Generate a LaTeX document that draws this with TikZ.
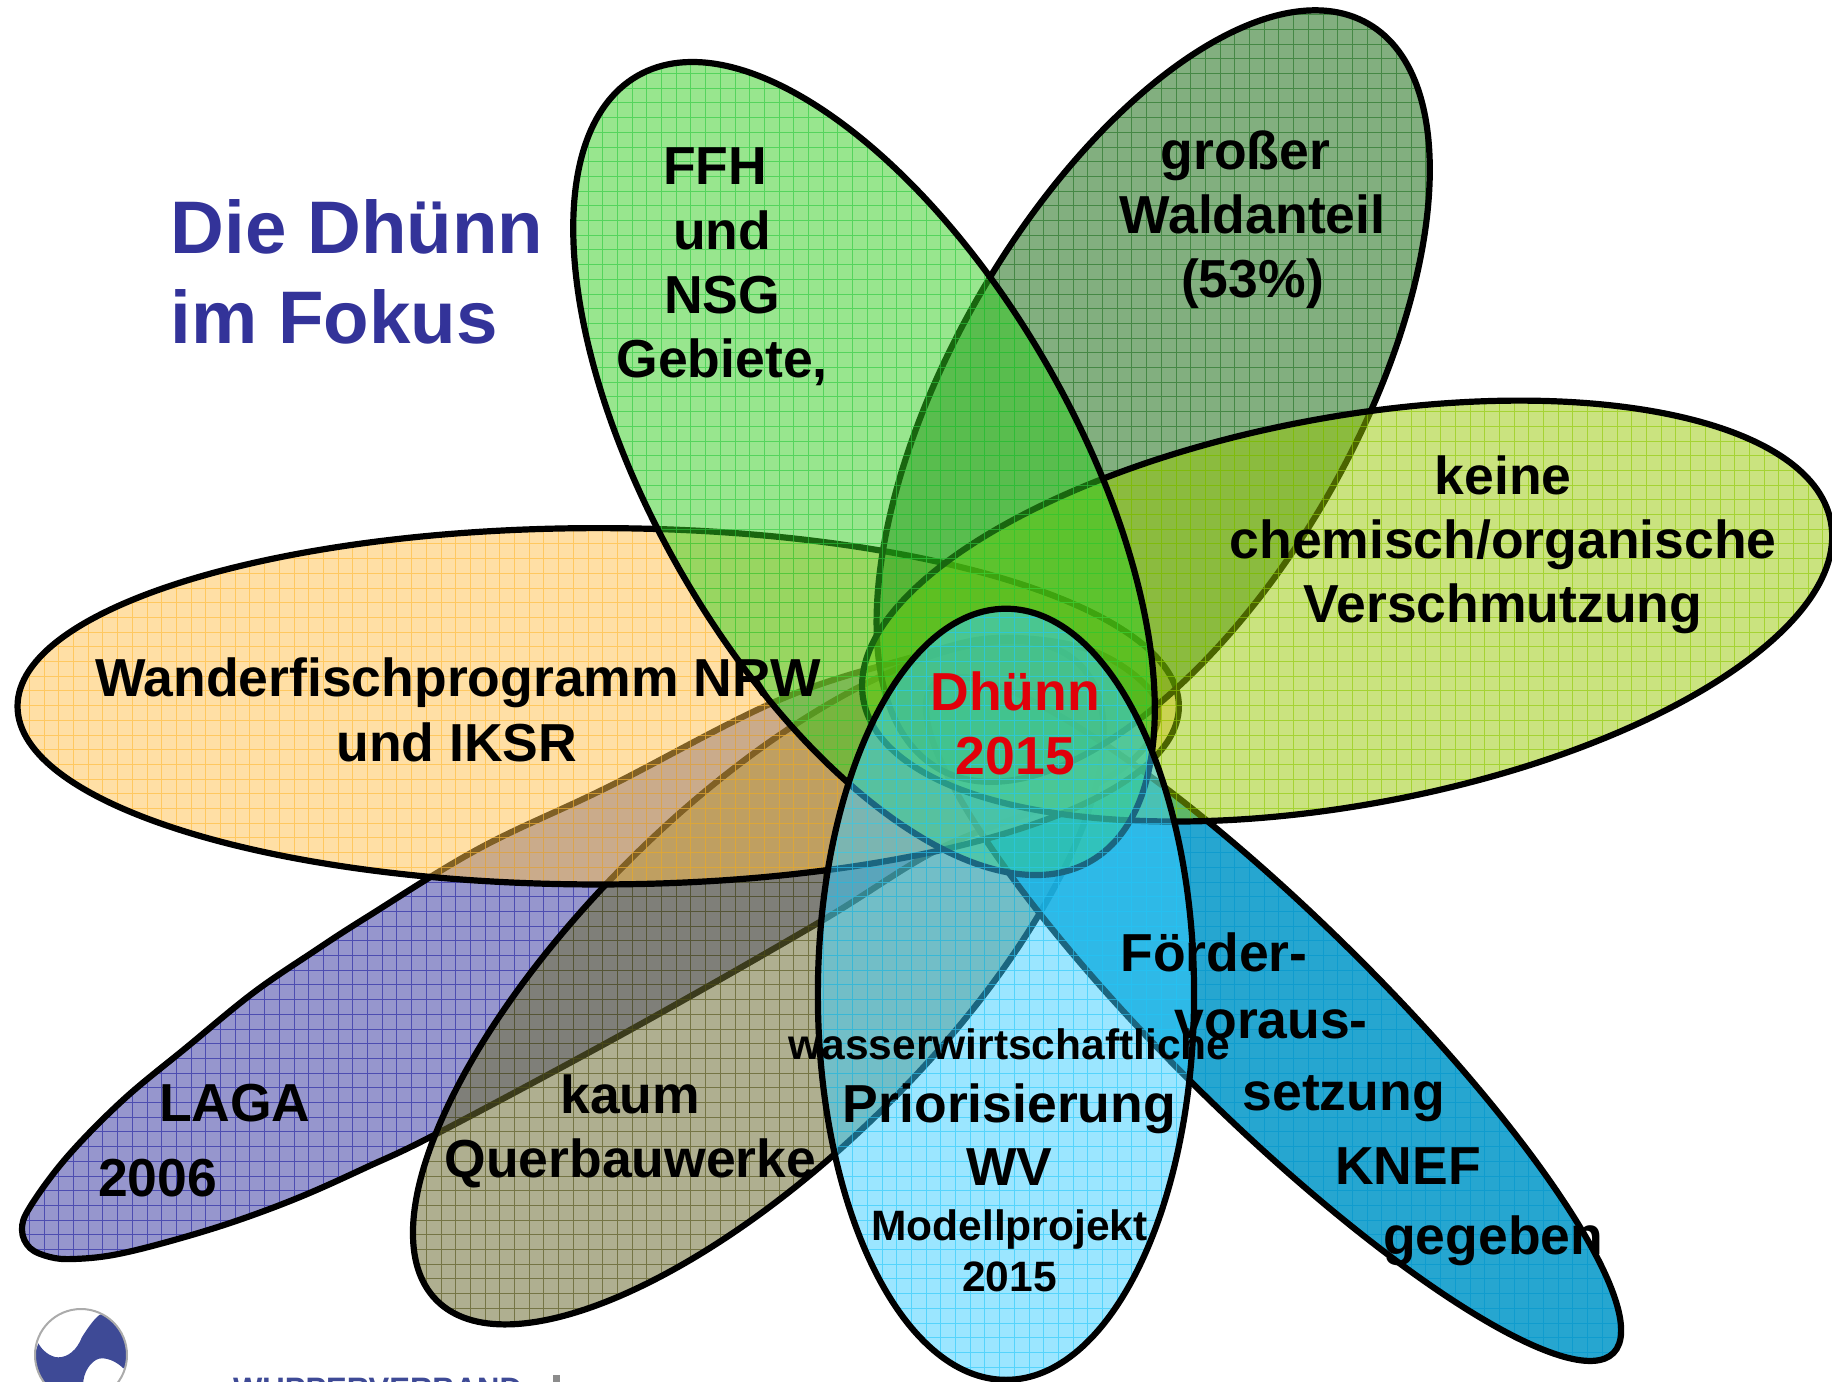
\documentclass[tikz,border=0pt]{standalone}
\usepackage{fontspec}
\setmainfont{Liberation Sans}
\usetikzlibrary{calc}
\definecolor{cOrange}{RGB}{255,192,75}
\definecolor{lOrange}{RGB}{255,185,50}
\definecolor{cLight}{RGB}{50,205,30}
\definecolor{lLight}{RGB}{40,200,60}
\definecolor{cDark}{RGB}{5,95,0}
\definecolor{lDark}{RGB}{30,110,30}
\definecolor{cYellow}{RGB}{150,200,0}
\definecolor{lYellow}{RGB}{140,200,0}
\definecolor{cBlue}{RGB}{0,150,200}
\definecolor{lBlue}{RGB}{0,150,205}
\definecolor{cCyan}{RGB}{55,205,255}
\definecolor{lCyan}{RGB}{40,200,250}
\definecolor{cOlive}{RGB}{109,109,52}
\definecolor{lOlive}{RGB}{80,80,20}
\definecolor{cPurple}{RGB}{45,45,155}
\definecolor{lPurple}{RGB}{30,30,160}
\definecolor{titleblue}{RGB}{51,51,153}
\definecolor{logoblue}{RGB}{62,74,150}
\definecolor{textred}{RGB}{225,0,10}
\tikzset{gridline/.style={opacity=.6,line width=.85pt,step=14.7pt}}
% cx cy a b angle fill line opacity
\newcommand\petal[8]{%
  \begin{scope}
    \clip[rotate around={#5:(#1,-#2)}] (#1,-#2) ellipse [x radius=#3,y radius=#4];
    \fill[#6,opacity=#8] (0,0) rectangle (1568,-1182);
    \draw[#7,gridline] (0,0) grid (1568,-1182);
  \end{scope}
  \draw[black,line width=6.2pt,rotate around={#5:(#1,-#2)}] (#1,-#2) ellipse [x radius=#3,y radius=#4];
}
\newcommand\purplepath{plot[smooth cycle,tension=.6] coordinates {
  (480,-848) (608,-787) (779,-700) (913,-657) (997,-638) (1090,-650) (1150,-690) (1155,-730)
  (1120,-770) (1050,-805) (939,-849) (818,-923) (630,-1030) (440,-1132) (367,-1167) (300,-1197)
  (233,-1222) (167,-1242) (113,-1255) (73,-1259) (50,-1257) (30,-1248) (22,-1230) (30,-1207)
  (67,-1157) (123,-1100) (187,-1047) (253,-993) (313,-952) (367,-917)}}
\tikzset{
  big/.style={font=\bfseries\fontsize{53.5pt}{53.5pt}\selectfont,anchor=base,inner sep=0pt},
  small/.style={font=\bfseries\fontsize{42.5pt}{42.5pt}\selectfont,anchor=base,inner sep=0pt},
  red/.style={big,text=textred},
  ttl/.style={font=\bfseries\fontsize{74.5pt}{74.5pt}\selectfont,anchor=base west,inner sep=0pt,text=titleblue}
}
\begin{document}
\begin{tikzpicture}[x=1.16837pt,y=1.16837pt]
\useasboundingbox (0,0) rectangle (1568,-1182);
\clip (0,0) rectangle (1568,-1182);
\begin{scope}[x=1pt,y=1pt]
  \begin{scope}
    \clip \purplepath;
    \fill[cPurple,opacity=.5] (0,0) rectangle (1832,-1381);
    \draw[lPurple,gridline] (0,0) grid (1832,-1381);
  \end{scope}
  \draw[black,line width=6.2pt] \purplepath;
\end{scope}
\petal{649}{841}{387}{152}{44.6}{cOlive}{lOlive}{.55}
\petal{1090}{872}{408}{88}{-44.5}{cBlue}{lBlue}{.85}
\petal{512}{604.5}{497}{152.5}{0}{cOrange}{lOrange}{.5}
\petal{987}{339}{368}{172}{60}{cDark}{lDark}{.5}
\petal{1153}{523}{421}{166}{10.4}{cYellow}{lYellow}{.5}
\petal{739.5}{401}{388}{180}{-60}{cLight}{lLight}{.5}
\petal{861}{851}{330}{161}{90}{cCyan}{lCyan}{.5}

\node[ttl] (t1) at (146,-217) {Die Dhünn};
\node[ttl] (t2) at (146,-294) {im Fokus};

\node[big] (a1) at (612,-158) {FFH};
\node[big] (a2) at (618,-213.5) {und};
\node[big] (a3) at (618,-268) {NSG};
\node[big] (a4) at (618,-323) {Gebiete,};
\node[big] (b1) at (1066,-145) {großer};
\node[big] (b2) at (1072,-200) {Waldanteil};
\node[big] (b3) at (1072,-255) {(53\%)};
\node[big] (c1) at (1286.5,-423) {keine};
\node[big] (c2) at (1286.5,-478) {chemisch/organische};
\node[big] (c3) at (1286.5,-533) {Verschmutzung};
\node[big] (d1) at (392,-596.5) {Wanderfischprogramm NRW};
\node[big] (d2) at (391,-651.5) {und IKSR};
\node[red] (e1) at (869,-608) {Dhünn};
\node[red] (e2) at (869,-663) {2015};
\node[big] (f1) at (201,-959.5) {LAGA};
\node[big] (f2) at (135,-1024) {2006};
\node[big] (g1) at (539.5,-953) {kaum};
\node[big] (g2) at (539.5,-1007.5) {Querbauwerke};
\node[big] (h1) at (1039,-831.5) {Förder-};
\node[big] (h2) at (1088,-888.5) {voraus-};
\node[big] (h3) at (1150,-950.5) {setzung};
\node[big] (h4) at (1205,-1013.5) {KNEF};
\node[big] (h5) at (1278,-1074) {gegeben};
\node[small] (i1) at (864,-907) {wasserwirtschaftliche};
\node[big] (i2) at (864,-960.5) {Priorisierung};
\node[big] (i3) at (864,-1014.5) {WV};
\node[small] (i4) at (864,-1062) {Modellprojekt};
\node[small] (i5) at (864,-1105) {2015};

\begin{scope}[x=1pt,y=1pt]
  \begin{scope}
    \clip (81,-1355) ellipse [x radius=46,y radius=46];
    \fill[logoblue] (99.3,-1315) .. controls (92,-1321) and (86,-1331) .. (82,-1337)
      .. controls (77,-1350) and (68,-1357.3) .. (58.3,-1357.3)
      .. controls (50,-1357.3) and (42,-1350) .. (38.3,-1343.3)
      -- (20,-1400) -- (83.3,-1400) -- (83.3,-1381)
      .. controls (85,-1368) and (94,-1358.3) .. (101.7,-1358.3)
      .. controls (110,-1358.3) and (118,-1363) .. (123.3,-1368.3)
      -- (140,-1360) -- (140,-1300) -- cycle;
  \end{scope}
  \draw[black!33,line width=2pt] (81,-1355) ellipse [x radius=46,y radius=46];
  \node[font=\bfseries\fontsize{31pt}{31pt}\selectfont,text=logoblue,anchor=base west,inner sep=0pt] (w) at (233,-1399) {WUPPERVERBAND};
  \fill[black!45] (553,-1375) rectangle (560,-1382);
\end{scope}
\end{tikzpicture}
\end{document}
